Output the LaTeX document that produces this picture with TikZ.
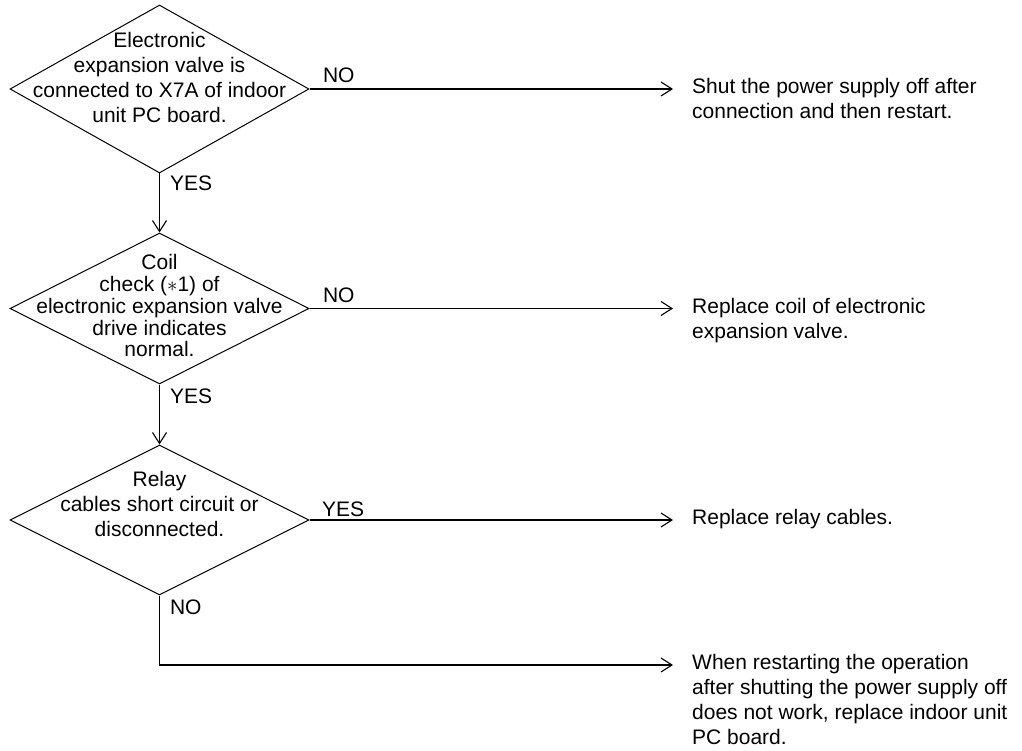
\documentclass[tikz,border=0pt]{standalone}
\usepackage{fontspec}
\setmainfont{Liberation Sans}
\usetikzlibrary{shapes.geometric, arrows.meta, positioning}

\begin{document}
\begin{tikzpicture}[
        x=1pt, y=1pt,
        decision/.style={diamond, draw, line width=1pt, inner sep=0pt,
                         minimum width=299pt},
        question/.style={align=center, inner sep=0pt, font=\fontsize{21}{25}\selectfont},
        answer/.style={align=left, inner sep=0pt, anchor=north west, yshift=10.8pt,
                       font=\fontsize{21}{25}\selectfont},
        flag/.style={pos=0, anchor=base west, inner sep=0pt, font=\fontsize{21}{25}\selectfont},
        arrow/.style={-{Straight Barb[length=11pt, width=14pt]}, line width=1.1pt},
        reply/.style={arrow, shorten >=19pt},
    ]
    \useasboundingbox (0,0) rectangle (1022,-751);

    \node[decision, minimum height=168pt] (q1) at (159.5,-89) {};
    \node[decision, minimum height=151pt, below=59pt of q1] (q2) {};
    \node[decision, minimum height=150pt, below=60pt of q2] (q3) {};

    \node[question, yshift=12pt] (t1) at (q1) {Electronic\\expansion valve is\\connected to X7A of indoor\\unit PC board.};
    \node[question, yshift=2.6pt, font=\fontsize{21}{21.75}\selectfont] (t2) at (q2) {Coil\\check ($\ast$1) of\\electronic expansion valve\\drive indicates\\normal.};
    \node[question, yshift=16pt] (t3) at (q3) {Relay\\cables short circuit or\\disconnected.};

    \node[answer] (a1) at (692,0 |- q1) {Shut the power supply off after\\connection and then restart.};
    \node[answer] (a2) at (692,0 |- q2) {Replace coil of electronic\\expansion valve.};
    \node[answer] (a3) at (692,0 |- q3) {Replace relay cables.};
    \node[answer] (a4) at (692,-665) {When restarting the operation\\after shutting the power supply off\\does not work, replace indoor unit\\PC board.};

    \draw[reply] (q1.east) -- node[flag, xshift=13pt, yshift=6pt] {NO} (q1 -| a1.west);
    \draw[arrow] (q1.south) -- node[flag, xshift=10pt, yshift=-17pt] {YES} (q2.north);
    \draw[reply] (q2.east) -- node[flag, xshift=13pt, yshift=6pt] {NO} (q2 -| a2.west);
    \draw[arrow] (q2.south) -- node[flag, xshift=10pt, yshift=-19pt] {YES} (q3.north);
    \draw[reply] (q3.east) -- node[flag, xshift=12pt, yshift=4pt] {YES} (q3 -| a3.west);
    \draw[reply] (q3.south) |- node[flag, xshift=10pt, yshift=-19pt] {NO} ([yshift=-10.8pt]a4.north west);
\end{tikzpicture}
\end{document}
